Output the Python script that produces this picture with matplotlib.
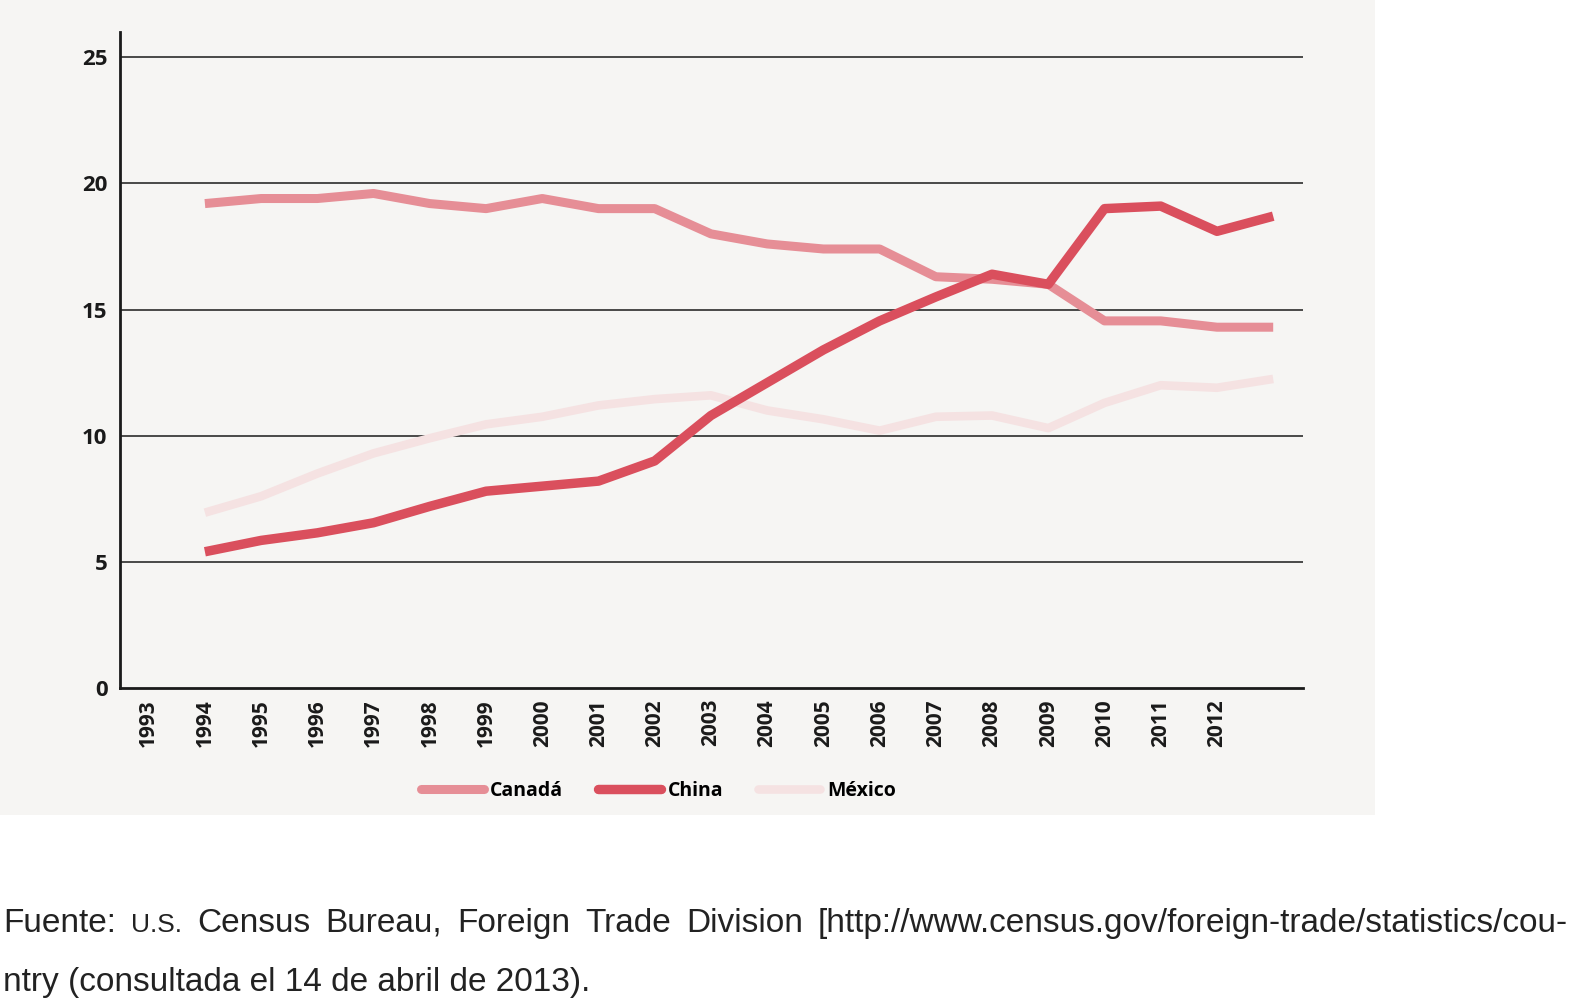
import numpy as np
import matplotlib.pyplot as plt
from matplotlib.patches import Rectangle

years = np.arange(1994, 2014)
canada = [19.2, 19.4, 19.4, 19.6, 19.2, 19.0, 19.4, 19.0, 19.0, 18.0,
          17.6, 17.4, 17.4, 16.3, 16.2, 16.0, 14.55, 14.55, 14.3, 14.3]
china = [5.4, 5.85, 6.15, 6.55, 7.2, 7.8, 8.0, 8.2, 9.0, 10.8,
         12.1, 13.4, 14.55, 15.5, 16.4, 16.0, 19.0, 19.1, 18.1, 18.7]
mexico = [6.95, 7.6, 8.5, 9.3, 9.9, 10.45, 10.75, 11.2, 11.45, 11.6,
          11.0, 10.65, 10.2, 10.75, 10.8, 10.3, 11.3, 12.0, 11.9, 12.25]
tick_years = list(range(1993, 2013))
yticks = [0, 5, 10, 15, 20, 25]

fig = plt.figure(figsize=(15.72, 10), dpi=100)
fig.patch.set_facecolor('white')
fig.patches.append(Rectangle((0, 0.185), 1375/1572, 0.815, transform=fig.transFigure,
                             facecolor='#f6f5f3', edgecolor='none', zorder=-10))

ax = fig.add_axes([120/1572, 0.312, (1303-120)/1572, 0.968-0.312])
ax.set_facecolor('none')
ax.plot(years, mexico, color='#f5e2e2', lw=6.2, solid_capstyle='butt', label='México', zorder=3)
ax.plot(years, canada, color='#e68e96', lw=6.5, solid_capstyle='butt', label='Canadá', zorder=4)
ax.plot(years, china, color='#da4f5d', lw=6.8, solid_capstyle='butt', label='China', zorder=5)

ax.set_xlim(1992.49, 2013.53)
ax.set_ylim(0, 26)
for v in yticks[1:]:
    ax.axhline(v, color='#1a1a1a', lw=1.1, zorder=1)
for s in ['top', 'right']:
    ax.spines[s].set_visible(False)
for s in ['left', 'bottom']:
    ax.spines[s].set_linewidth(2)
    ax.spines[s].set_color('#1a1a1a')
ax.set_yticks(yticks)
ax.set_yticklabels([str(v) for v in yticks], fontsize=16, fontweight='bold',
                   family='Open Sans', color='#1a1a1a')
ax.set_xticks(tick_years)
ax.set_xticklabels([str(y) for y in tick_years], rotation=90, fontsize=15,
                   fontweight='bold', family='Open Sans', color='#1a1a1a')
ax.tick_params(length=0, axis='y', pad=9)
ax.tick_params(length=0, axis='x', pad=8)

h, l = ax.get_legend_handles_labels()
order = [1, 2, 0]
leg = fig.legend([h[i] for i in order], [l[i] for i in order], loc='center',
                 bbox_to_anchor=(0.419, 0.209), ncol=3, frameon=False,
                 handlelength=3.2, columnspacing=1.8, handletextpad=0.35,
                 prop={'family': 'Open Sans', 'weight': 'bold', 'size': 14})
for lh in leg.get_lines():
    lh.set_solid_capstyle('round')

# source note, first line justified to the full width
src1 = [("Fuente:", 24), ("U.S.", 19), ("Census", 24), ("Bureau,", 24), ("Foreign", 24),
        ("Trade", 24), ("Division", 24),
        ("[http://www.census.gov/foreign-trade/statistics/cou-", 24)]
src2 = "ntry (consultada el 14 de abril de 2013)."
renderer = fig.canvas.get_renderer()
texts = [fig.text(0, 0.068, w, fontsize=s, family='Liberation Sans', color='#222222',
                  va='baseline') for w, s in src1]
widths = [t.get_window_extent(renderer).width for t in texts]
x0, x1 = 3, 1568
gap = max((x1 - x0 - sum(widths)) / (len(texts) - 1), 6)
x = x0
for t, w in zip(texts, widths):
    t.set_x(x / 1572)
    x += w + gap
fig.text(3/1572, 0.009, src2, fontsize=24, family='Liberation Sans', color='#222222',
         va='baseline')

fig.savefig('out.png', dpi=100)
